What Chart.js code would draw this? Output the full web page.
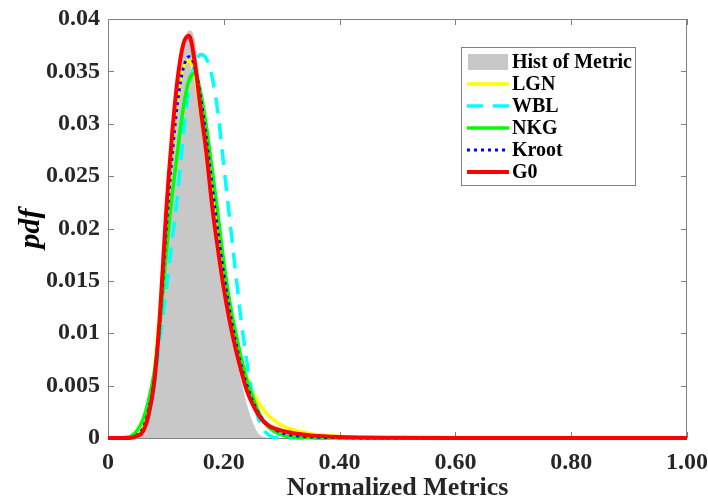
<!DOCTYPE html>
<html><head><meta charset="utf-8">
<script src="https://cdn.jsdelivr.net/npm/chart.js@4.4.1/dist/chart.umd.min.js"></script>
<style>html,body{margin:0;padding:0;background:#fff;}#wrap{width:708px;height:500px;}</style>
</head><body><div id="wrap"><canvas id="c" width="708" height="500"></canvas></div>
<script>
// x positions (normalized metric) at which the curves were read
const xValues   = [0, 0.02, 0.03, 0.04, 0.05, 0.06, 0.07, 0.08, 0.09, 0.10, 0.11, 0.12, 0.13, 0.14, 0.15, 0.16, 0.17, 0.18, 0.19, 0.20, 0.21, 0.22, 0.23, 0.24, 0.25, 0.26, 0.27, 0.28, 0.30, 0.32, 0.35, 0.40, 0.50, 0.60, 0.80, 1.00];
const histValues = [0, 0, 0, 0, 0.0001, 0.0006, 0.0020, 0.0052, 0.0115, 0.0205, 0.0280, 0.0340, 0.0375, 0.0389, 0.0380, 0.0332, 0.0280, 0.0228, 0.0180, 0.0138, 0.0105, 0.0078, 0.0055, 0.0032, 0.0015, 0.0004, 0.0001, 0, 0, 0, 0, 0, 0, 0, 0, 0];
const lgnValues  = [0, 0, 0.00003, 0.0001, 0.0004, 0.0012, 0.0030, 0.0064, 0.0125, 0.0205, 0.0275, 0.0326, 0.0354, 0.0360, 0.0345, 0.0312, 0.0272, 0.0230, 0.0190, 0.0153, 0.0122, 0.0096, 0.0075, 0.0058, 0.0044, 0.0034, 0.0026, 0.0020, 0.0012, 0.0008, 0.0004, 0.00015, 0.00003, 0, 0, 0];
const wblValues  = [0, 0, 0, 0, 0.0001, 0.0006, 0.0020, 0.0048, 0.0095, 0.0138, 0.0185, 0.0232, 0.0288, 0.0335, 0.0356, 0.0366, 0.0362, 0.0344, 0.0310, 0.0260, 0.0210, 0.0160, 0.0112, 0.0072, 0.0040, 0.0018, 0.0007, 0.0002, 0, 0, 0, 0, 0, 0, 0, 0];
const nkgValues  = [0, 0.00002, 0.00005, 0.0002, 0.0007, 0.0017, 0.0036, 0.0063, 0.0110, 0.0172, 0.0228, 0.0273, 0.0315, 0.0342, 0.0348, 0.0330, 0.0297, 0.0256, 0.0213, 0.0168, 0.0131, 0.0102, 0.0077, 0.0055, 0.0039, 0.0025, 0.0015, 0.0009, 0.0003, 0.0001, 0.00003, 0, 0, 0, 0, 0];
const krootValues = [0, 0, 0.00001, 0.00005, 0.0003, 0.0009, 0.0026, 0.0058, 0.0115, 0.0195, 0.0265, 0.0320, 0.0353, 0.0364, 0.0354, 0.0325, 0.0285, 0.0240, 0.0196, 0.0156, 0.0122, 0.0093, 0.0069, 0.0050, 0.0035, 0.0024, 0.0016, 0.0011, 0.0005, 0.00025, 0.0001, 0.00003, 0, 0, 0, 0];
const g0Values   = [0, 0, 0, 0.00002, 0.0002, 0.0006, 0.0022, 0.0054, 0.0120, 0.0212, 0.0285, 0.0342, 0.0376, 0.0384, 0.0358, 0.0314, 0.0272, 0.0221, 0.0180, 0.0143, 0.0112, 0.0086, 0.0064, 0.0045, 0.0032, 0.0022, 0.0015, 0.0011, 0.0007, 0.00045, 0.00025, 0.0001, 0.00002, 0, 0, 0];

const seriesNames = ['Hist of Metric', 'LGN', 'WBL', 'NKG', 'Kroot', 'G0'];
const xTickLabels = ['0', '0.20', '0.40', '0.60', '0.80', '1.00'];
const yTickLabels = ['0', '0.005', '0.01', '0.015', '0.02', '0.025', '0.03', '0.035', '0.04'];
const xTitle = 'Normalized Metrics';
const yTitle = 'pdf';

const pts = arr => xValues.map((x, i) => ({x: x, y: arr[i]}));
const SERIF = "'Liberation Serif', 'Times New Roman', serif";
const FRAME = '#808080';
const TEXT = '#262626';

const datasets = [
  {label: seriesNames[0], data: pts(histValues), fill: 'origin', backgroundColor: '#c8c8c8', borderColor: '#c8c8c8', borderWidth: 0, order: 5, swatch: 'box'},
  {label: seriesNames[1], data: pts(lgnValues), borderColor: '#ffff00', borderWidth: 3.5, order: 4},
  {label: seriesNames[2], data: pts(wblValues), borderColor: '#00ffff', borderWidth: 3.5, borderDash: [16, 10], order: 3},
  {label: seriesNames[3], data: pts(nkgValues), borderColor: '#00ff00', borderWidth: 3.5, order: 2},
  {label: seriesNames[4], data: pts(krootValues), borderColor: '#0000ff', borderWidth: 3, borderDash: [3, 4], order: 1},
  {label: seriesNames[5], data: pts(g0Values), borderColor: '#ff0000', borderWidth: 4, order: 0}
];
datasets.forEach(d => { d.pointRadius = 0; d.cubicInterpolationMode = 'monotone'; d.clip = 6; if (d.fill === undefined) d.fill = false; });

const framePlugin = {
  id: 'frame',
  beforeDatasetsDraw(chart) {
    const {ctx, chartArea: a, scales} = chart;
    ctx.save();
    ctx.strokeStyle = FRAME; ctx.lineWidth = 1;
    ctx.strokeRect(a.left + 0.5, a.top + 0.5, a.right - a.left - 1, a.bottom - a.top);
    ctx.beginPath();
    scales.x.ticks.forEach(t => {
      const px = Math.round(scales.x.getPixelForValue(t.value)) + 0.5;
      ctx.moveTo(px, a.bottom); ctx.lineTo(px, a.bottom - 6);
      ctx.moveTo(px, a.top); ctx.lineTo(px, a.top + 6);
    });
    scales.y.ticks.forEach(t => {
      const py = Math.round(scales.y.getPixelForValue(t.value)) + 0.5;
      ctx.moveTo(a.left, py); ctx.lineTo(a.left + 6, py);
      ctx.moveTo(a.right, py); ctx.lineTo(a.right - 6, py);
    });
    ctx.stroke();
    ctx.restore();
  }
};

const legendPlugin = {
  id: 'boxLegend',
  afterDraw(chart) {
    const {ctx} = chart;
    const bx = 461, by = 47, bw = 174, rowH = 22, y0 = 62;
    const bh = (y0 - by) + rowH * (datasets.length - 1) + 13;
    ctx.save();
    ctx.fillStyle = '#fff';
    ctx.fillRect(bx, by, bw, bh);
    ctx.strokeStyle = FRAME; ctx.lineWidth = 1;
    ctx.strokeRect(bx + 0.5, by + 0.5, bw, bh);
    ctx.font = 'bold 20px ' + SERIF;
    ctx.textBaseline = 'middle';
    datasets.forEach((d, i) => {
      const y = y0 + i * rowH;
      if (d.swatch === 'box') {
        ctx.fillStyle = d.backgroundColor;
        ctx.fillRect(468, y - 8, 40, 16);
      } else {
        ctx.strokeStyle = d.borderColor;
        ctx.lineWidth = d.borderWidth;
        ctx.setLineDash(d.borderDash || []);
        ctx.beginPath(); ctx.moveTo(467, y); ctx.lineTo(509, y); ctx.stroke();
        ctx.setLineDash([]);
      }
      ctx.fillStyle = '#000';
      ctx.fillText(d.label, 512, y + 1);
    });
    ctx.restore();
  }
};

new Chart(document.getElementById('c'), {
  type: 'line',
  data: {datasets: datasets},
  options: {
    responsive: false, animation: false, devicePixelRatio: 1,
    layout: {padding: {top: 19, right: 21, left: 0, bottom: 0}},
    plugins: {legend: {display: false}, tooltip: {enabled: false}},
    scales: {
      x: {
        type: 'linear', min: 0, max: 1,
        afterFit(s) { s.height = 62; s.paddingLeft = 0; s.paddingRight = 0; },
        ticks: {stepSize: 0.2, autoSkip: false, maxRotation: 0, padding: 10, color: TEXT,
          font: {family: SERIF, size: 24, weight: 'bold'},
          callback: (v, i) => xTickLabels[i]},
        grid: {display: false, drawTicks: false},
        border: {display: false},
        title: {display: true, text: xTitle, color: TEXT, padding: 0,
          font: {family: SERIF, size: 26, weight: 'bold', lineHeight: 0.92}}
      },
      y: {
        type: 'linear', min: 0, max: 0.04,
        afterFit(s) { s.width = 108; s.paddingTop = 0; s.paddingBottom = 0; },
        ticks: {stepSize: 0.005, autoSkip: false, padding: 8, color: TEXT,
          font: {family: SERIF, size: 24, weight: 'bold'},
          callback: (v, i) => yTickLabels[i]},
        grid: {display: false, drawTicks: false},
        border: {display: false},
        title: {display: true, text: yTitle, color: '#000', padding: 0,
          font: {family: SERIF, size: 30, weight: 'bold', style: 'italic', lineHeight: 2.1}}
      }
    }
  },
  plugins: [framePlugin, legendPlugin]
});
</script></body></html>
